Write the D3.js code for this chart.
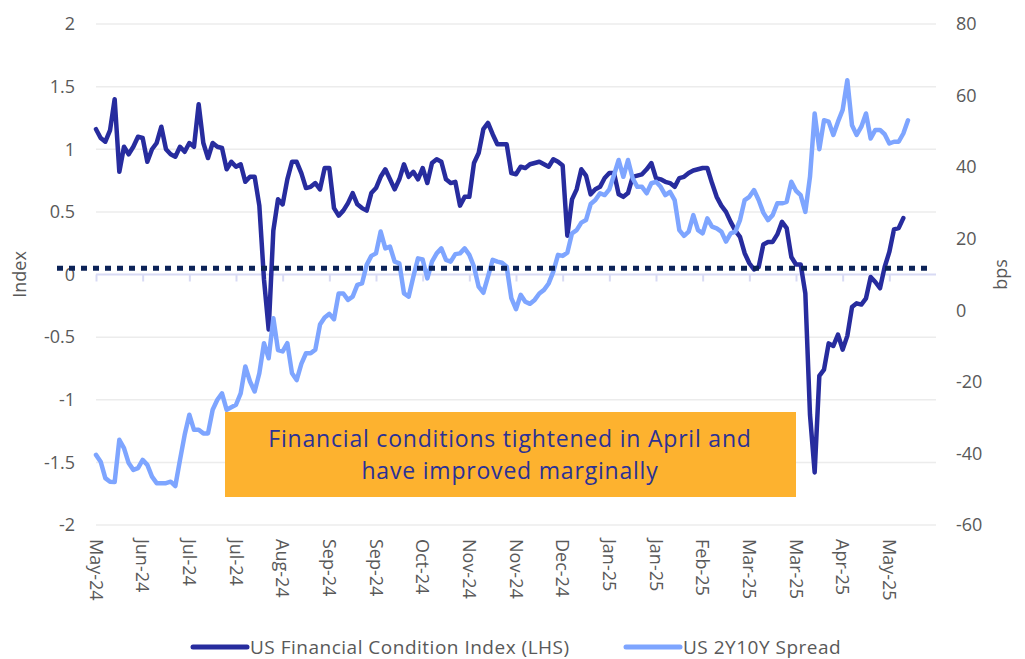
<!DOCTYPE html>
<html>
  <head>
    <meta charset="utf-8" />
    <title>US Financial Conditions</title>
    <script src="https://cdn.jsdelivr.net/npm/d3@7/dist/d3.min.js"></script>
    <style type="text/css">
      html, body {
        margin: 0;
        padding: 0;
        background: #fff;
      }
      svg text {
        font-family: "Open Sans", Lato, sans-serif;
      }
    </style>
  </head>
  <body>
    <svg id="chart" width="1025" height="659"></svg>

    <script type="text/javascript">

    // tick labels along the bottom, one every 10 observations
    var xLabels = ['May-24', 'Jun-24', 'Jul-24', 'Jul-24', 'Aug-24', 'Sep-24', 'Sep-24', 'Oct-24', 'Nov-24',
                   'Nov-24', 'Dec-24', 'Jan-25', 'Jan-25', 'Feb-25', 'Mar-25', 'Mar-25', 'Apr-25', 'May-25'];
    var leftTicks = [-2, -1.5, -1, -0.5, 0, 0.5, 1, 1.5, 2];
    var rightTicks = [-60, -40, -20, 0, 20, 40, 60, 80];

    // US Financial Condition Index (LHS)
    var fci = [
      1.16, 1.09, 1.06, 1.15, 1.40, 0.82, 1.02, 0.96, 1.02, 1.10,
      1.09, 0.90, 1.00, 1.05, 1.18, 1.00, 0.96, 0.94, 1.02, 0.98,
      1.05, 1.02, 1.36, 1.05, 0.93, 1.05, 1.02, 1.01, 0.84, 0.90,
      0.86, 0.88, 0.74, 0.78, 0.78, 0.55, -0.04, -0.44, 0.35, 0.60,
      0.56, 0.76, 0.90, 0.90, 0.81, 0.69, 0.70, 0.73, 0.68, 0.85,
      0.85, 0.53, 0.47, 0.51, 0.57, 0.65, 0.56, 0.53, 0.51, 0.65,
      0.69, 0.78, 0.84, 0.76, 0.68, 0.76, 0.88, 0.78, 0.82, 0.76,
      0.85, 0.73, 0.89, 0.92, 0.90, 0.76, 0.73, 0.74, 0.55, 0.62,
      0.62, 0.89, 0.97, 1.16, 1.21, 1.12, 1.04, 1.04, 1.04, 0.81,
      0.80, 0.86, 0.85, 0.88, 0.89, 0.90, 0.88, 0.86, 0.92, 0.90,
      0.87, 0.31, 0.60, 0.68, 0.84, 0.79, 0.64, 0.68, 0.70, 0.77,
      0.81, 0.81, 0.64, 0.62, 0.65, 0.78, 0.79, 0.80, 0.84, 0.89,
      0.77, 0.76, 0.74, 0.73, 0.70, 0.77, 0.78, 0.81, 0.83, 0.84,
      0.85, 0.85, 0.73, 0.62, 0.55, 0.50, 0.42, 0.35, 0.30, 0.17,
      0.09, 0.04, 0.06, 0.24, 0.26, 0.26, 0.32, 0.42, 0.37, 0.14,
      0.08, 0.08, -0.15, -1.12, -1.58, -0.81, -0.76, -0.55, -0.57, -0.48,
      -0.60, -0.49, -0.26, -0.23, -0.24, -0.19, -0.02, -0.06, -0.11, 0.06,
      0.18, 0.36, 0.37, 0.45
    ];

    // US 2Y10Y Spread (bps, RHS)
    var spread = [
      -40.4, -42.3, -46.9, -47.9, -48.0, -36.2, -38.5, -42.7, -44.6, -44.1,
      -41.8, -43.2, -46.5, -48.3, -48.3, -48.3, -47.9, -49.1, -41.8, -34.8,
      -29.2, -33.4, -33.4, -34.4, -34.4, -27.8, -25.0, -23.2, -27.8, -27.1,
      -26.4, -23.2, -15.7, -19.9, -22.7, -17.6, -9.2, -13.4, -2.2, -11.1,
      -11.5, -9.2, -17.6, -19.5, -15.0, -12.0, -12.0, -11.0, -4.0, -2.0,
      -1.0, -2.5, 4.7, 4.7, 2.9, 3.8, 7.1, 7.5, 12.7, 15.2,
      15.9, 22.0, 17.3, 17.8, 13.6, 13.1, 4.7, 3.8, 9.4, 14.5,
      14.2, 8.9, 13.6, 15.9, 17.3, 14.1, 13.6, 15.7, 15.9, 17.3,
      15.5, 12.2, 6.6, 4.9, 9.4, 14.1, 13.6, 13.3, 12.2, 3.4,
      0.3, 4.3, 2.4, 1.8, 2.9, 4.7, 5.7, 7.5, 10.8, 15.5,
      15.2, 16.1, 21.5, 22.4, 24.5, 25.2, 29.7, 30.8, 32.7, 32.2,
      33.8, 37.8, 42.0, 37.3, 42.0, 36.9, 34.5, 34.5, 32.7, 35.5,
      35.9, 34.5, 32.2, 33.1, 30.8, 22.4, 20.8, 22.0, 26.6, 22.4,
      21.5, 25.7, 23.4, 22.9, 22.0, 19.2, 21.5, 22.0, 25.2, 30.8,
      31.7, 33.6, 30.8, 27.3, 25.2, 26.6, 29.9, 29.9, 30.3, 35.9,
      33.4, 32.2, 27.5, 37.3, 55.0, 45.0, 53.1, 52.7, 49.0, 52.7,
      56.0, 64.3, 51.7, 49.0, 51.3, 55.0, 48.0, 50.4, 50.4, 49.2,
      46.6, 47.1, 47.1, 49.4, 53.1
    ];

    // dotted reference level, on the left axis
    var refLevel = 0.05;

    var noteLines = ['Financial conditions tightened in April and', 'have improved marginally'];

    var darkBlue = '#272c9e',
        lightBlue = '#7ea5ff',
        textGrey = '#595959';

    var svg = d3.select('#chart');

    var x = d3.scaleLinear().domain([0, 180]).range([96, 936]),
        yL = d3.scaleLinear().domain([-2, 2]).range([525, 24]),
        yR = d3.scaleLinear().domain([-60, 80]).range([525, 24]);

    // gridlines
    svg.append('g')
      .selectAll('line')
      .data(leftTicks.filter(function(d) { return d !== 0; }))
      .enter()
      .append('line')
        .attr('x1', x(0))
        .attr('x2', x(180))
        .attr('y1', function(d) { return yL(d); })
        .attr('y2', function(d) { return yL(d); })
        .attr('stroke', '#ececec')
        .attr('stroke-width', 1.5);

    // left axis
    var leftAxis = svg.append('g')
      .attr('transform', 'translate(' + x(0) + ',0)')
      .call(d3.axisLeft(yL).tickValues(leftTicks).tickSize(0).tickPadding(21)
              .tickFormat(function(d) { return String(d); }));
    leftAxis.select('.domain').remove();
    leftAxis.selectAll('text')
      .attr('fill', textGrey)
      .style('font-size', '18px');

    // right axis
    var rightAxis = svg.append('g')
      .attr('transform', 'translate(' + x(180) + ',0)')
      .call(d3.axisRight(yR).tickValues(rightTicks).tickSize(0).tickPadding(20)
              .tickFormat(function(d) { return String(d); }));
    rightAxis.select('.domain').remove();
    rightAxis.selectAll('text')
      .attr('fill', textGrey)
      .style('font-size', '18px');

    // axis titles
    svg.append('text')
      .attr('transform', 'translate(26,' + yL(0) + ') rotate(-90)')
      .attr('text-anchor', 'middle')
      .attr('fill', textGrey)
      .style('font-size', '18px')
      .text('Index');

    svg.append('text')
      .attr('transform', 'translate(1007,' + yL(0) + ') rotate(-90)')
      .attr('text-anchor', 'middle')
      .attr('fill', textGrey)
      .style('font-size', '18px')
      .text('bps');

    // category axis sits on the zero line
    var tickIdx = d3.range(0, 171, 10);
    var xAxis = svg.append('g')
      .attr('transform', 'translate(0,' + yL(0) + ')')
      .call(d3.axisBottom(x).tickValues(tickIdx).tickSize(7).tickFormat(''));
    xAxis.select('.domain')
      .attr('d', 'M' + x(0) + ',0H' + x(180))
      .attr('stroke', '#d8daf4')
      .attr('stroke-width', 2);
    xAxis.selectAll('.tick line')
      .attr('stroke', '#d8daf4')
      .attr('stroke-width', 2);

    svg.append('g')
      .selectAll('text')
      .data(tickIdx)
      .enter()
      .append('text')
        .attr('transform', function(d) { return 'translate(' + x(d) + ',539) rotate(90)'; })
        .attr('dy', '0.35em')
        .attr('fill', textGrey)
        .style('font-size', '18px')
        .text(function(d, i) { return xLabels[i]; });

    // series
    var lineL = d3.line()
      .x(function(d, i) { return x(i); })
      .y(function(d) { return yL(d); });
    var lineR = d3.line()
      .x(function(d, i) { return x(i); })
      .y(function(d) { return yR(d); });

    svg.append('path')
      .datum(fci)
      .attr('d', lineL)
      .attr('fill', 'none')
      .attr('stroke', darkBlue)
      .attr('stroke-width', 4.5)
      .attr('stroke-linejoin', 'round')
      .attr('stroke-linecap', 'round');

    svg.append('path')
      .datum(spread)
      .attr('d', lineR)
      .attr('fill', 'none')
      .attr('stroke', lightBlue)
      .attr('stroke-width', 4.5)
      .attr('stroke-linejoin', 'round')
      .attr('stroke-linecap', 'round');

    // dotted reference line
    svg.append('line')
      .attr('x1', 57)
      .attr('x2', x(179))
      .attr('y1', yL(refLevel))
      .attr('y2', yL(refLevel))
      .attr('stroke', '#0b2257')
      .attr('stroke-width', 5)
      .attr('stroke-dasharray', '6,6');

    // annotation box
    var note = svg.append('g');
    note.append('rect')
      .attr('x', 225)
      .attr('y', 412)
      .attr('width', 571)
      .attr('height', 85)
      .attr('fill', '#fdb22f');
    note.selectAll('text')
      .data(noteLines)
      .enter()
      .append('text')
        .attr('x', 510)
        .attr('y', function(d, i) { return 447 + i * 32; })
        .attr('text-anchor', 'middle')
        .attr('fill', '#2b3196')
        .style('font-size', '23px')
        .style('letter-spacing', '0.8px')
        .text(function(d) { return d; });

    // legend
    var legendItems = [
      { name: 'US Financial Condition Index (LHS)', color: darkBlue, x: 193 },
      { name: 'US 2Y10Y Spread', color: lightBlue, x: 626 }
    ];
    var legend = svg.append('g')
      .selectAll('g')
      .data(legendItems)
      .enter()
      .append('g')
        .attr('transform', function(d) { return 'translate(' + d.x + ',647)'; });
    legend.append('line')
      .attr('x1', 0)
      .attr('x2', 54)
      .attr('stroke', function(d) { return d.color; })
      .attr('stroke-width', 5)
      .attr('stroke-linecap', 'round');
    legend.append('text')
      .attr('x', 57)
      .attr('dy', '0.36em')
      .attr('fill', textGrey)
      .style('font-size', '19px')
      .style('letter-spacing', '0.5px')
      .text(function(d) { return d.name; });

    </script>
  </body>
</html>
